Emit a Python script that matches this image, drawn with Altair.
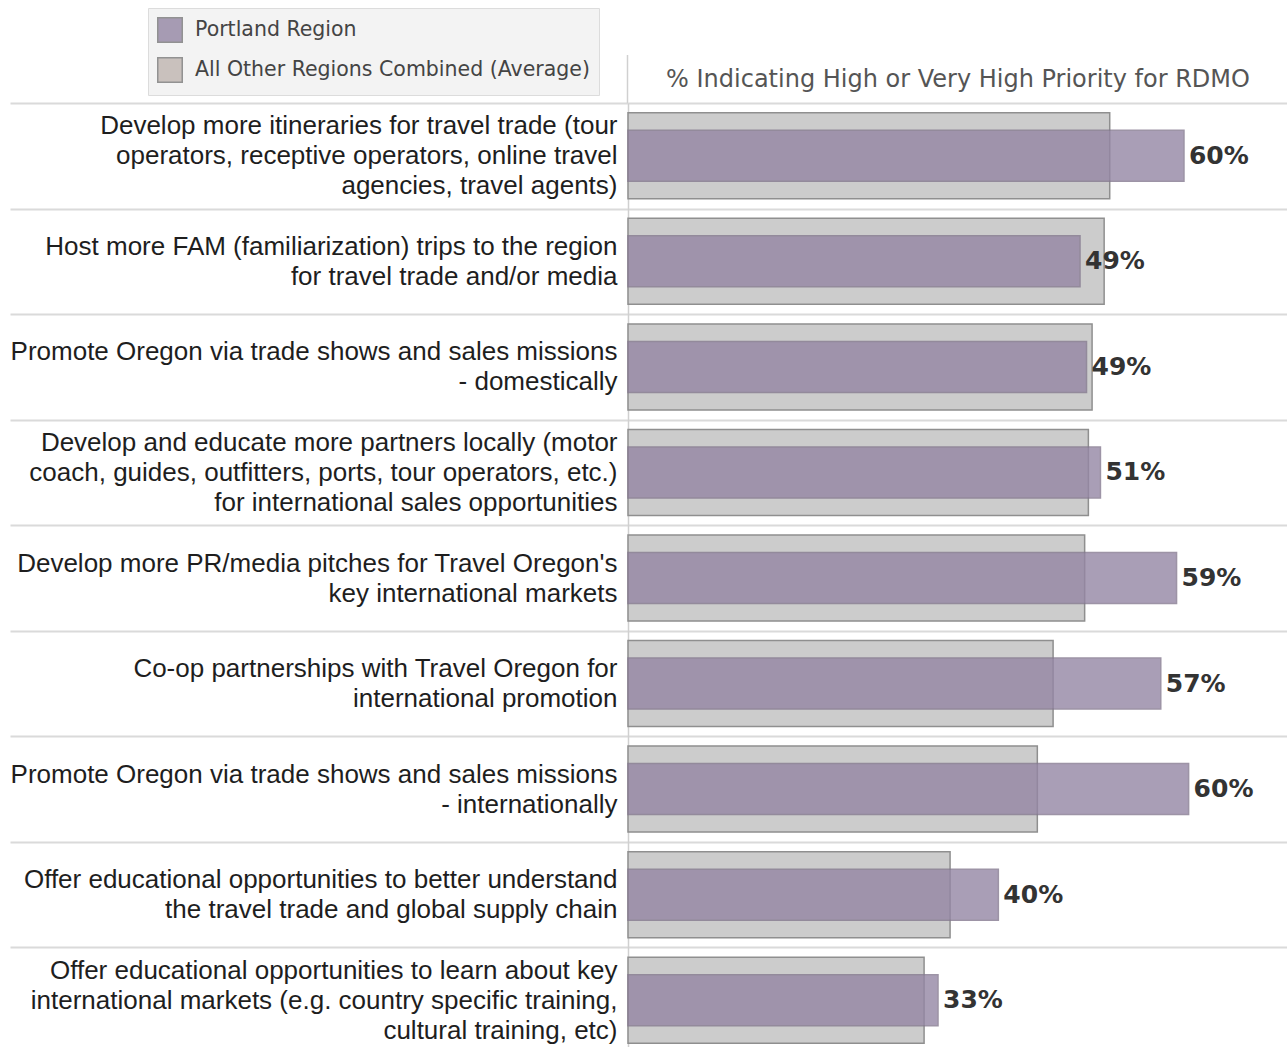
import altair as alt
import pandas as pd

items = [
    "Develop more itineraries for travel trade (tour|operators, receptive operators, online travel|agencies, travel agents)",
    "Host more FAM (familiarization) trips to the region|for travel trade and/or media",
    "Promote Oregon via trade shows and sales missions|- domestically",
    "Develop and educate more partners locally (motor|coach, guides, outfitters, ports, tour operators, etc.)|for international sales opportunities",
    "Develop more PR/media pitches for Travel Oregon's|key international markets",
    "Co-op partnerships with Travel Oregon for|international promotion",
    "Promote Oregon via trade shows and sales missions|- internationally",
    "Offer educational opportunities to better understand|the travel trade and global supply chain",
    "Offer educational opportunities to learn about key|international markets (e.g. country specific training,|cultural training, etc)",
]
portland = [59.9, 48.7, 49.4, 50.9, 59.1, 57.4, 60.4, 39.9, 33.4]
others = [51.9, 51.3, 50.0, 49.6, 49.2, 45.8, 44.1, 34.7, 31.9]
portland_labels = ["60%", "49%", "49%", "51%", "59%", "57%", "60%", "40%", "33%"]

S_PORT = "Portland Region"
S_OTHER = "All Other Regions Combined (Average)"

rows = []
for i, it in enumerate(items):
    rows.append({"item": it, "series": S_OTHER, "value": others[i], "label": ""})
    rows.append({"item": it, "series": S_PORT, "value": portland[i],
                 "label": portland_labels[i]})
df = pd.DataFrame(rows)

PURPLE = "#9486a4"
LEGEND_GRAY = "#bfb5b0"
BAR_GRAY = "#cccccc"
LINE = "#dadada"

color_scale = alt.Scale(domain=[S_PORT, S_OTHER], range=[PURPLE, LEGEND_GRAY])

y_enc = alt.Y(
    "item:N",
    sort=items,
    scale=alt.Scale(paddingInner=0, paddingOuter=0),
    axis=alt.Axis(
        title=None,
        orient="left",
        labelExpr="split(datum.label, '|')",
        labelFont="Liberation Sans",
        labelFontSize=26,
        labelLineHeight=30,
        labelColor="#1e1e1e",
        labelAlign="right",
        labelBaseline="middle",
        labelLimit=0,
        labelPadding=-607,
        labelOffset={
            "condition": {"test": "length(split(datum.value, '|')) > 2", "value": -30},
            "value": -15,
        },
        ticks=True,
        tickBand="extent",
        tickSize=618,
        tickColor=LINE,
        tickWidth=2,
        grid=True,
        gridColor=LINE,
        gridWidth=2,
        domain=True,
        domainColor="#d0d0d0",
        domainWidth=1.5,
    ),
)

x_enc = alt.X(
    "value:Q",
    scale=alt.Scale(domain=[0, 71], nice=False, zero=True),
    axis=alt.Axis(
        orient="top",
        title="% Indicating High or Very High Priority for RDMO",
        titleFont="DejaVu Sans",
        titleFontSize=24,
        titleFontWeight="normal",
        titleColor="#555555",
        titlePadding=12,
        labels=False,
        ticks=False,
        domain=False,
        grid=False,
    ),
)

color_enc = alt.Color(
    "series:N",
    scale=color_scale,
    legend=alt.Legend(
        title=None,
        orient="none",
        legendX=-480,
        legendY=-95,
        fillColor="#f3f3f3",
        strokeColor="#dcdcdc",
        padding=9,
        symbolType="square",
        symbolSize=600,
        symbolStrokeColor="#7a7a7a",
        symbolStrokeWidth=1.5,
        symbolOpacity=0.8,
        labelFont="DejaVu Sans",
        labelFontSize=20.5,
        labelColor="#444444",
        labelOffset=12,
        rowPadding=8,
        labelLimit=0,
    ),
)

base = alt.Chart(df)

gray_bars = base.transform_filter(alt.datum.series == S_OTHER).mark_bar(
    size=86, fill=BAR_GRAY, stroke="#8f8f8f", strokeWidth=1.5
).encode(y=y_enc, x=x_enc)

purple_bars = base.transform_filter(alt.datum.series == S_PORT).mark_bar(
    size=51, stroke="#857a90", strokeWidth=1.5, opacity=0.8
).encode(y=y_enc, x=x_enc, color=color_enc)

labels = base.transform_filter(alt.datum.series == S_PORT).mark_text(
    align="left", baseline="middle", dx=5, font="DejaVu Sans",
    fontWeight="bold", fontSize=25, color="#333333"
).encode(y=alt.Y("item:N", sort=items), x=alt.X("value:Q"), text="label:N")

divider = alt.Chart(pd.DataFrame({"a": [0]})).mark_rule(
    color="#d0d0d0", strokeWidth=1.5
).encode(x=alt.value(-0.5), y=alt.value(-48), y2=alt.value(0))

chart = alt.layer(gray_bars, purple_bars, labels, divider).properties(
    width=659,
    height=950,
    padding={"left": 628, "top": 103, "right": 0, "bottom": 0},
    autosize=alt.AutoSizeParams(type="none"),
).configure_view(strokeWidth=0).configure(background="white")

chart.save("out.html", embed_options={"renderer": "svg", "actions": False})
